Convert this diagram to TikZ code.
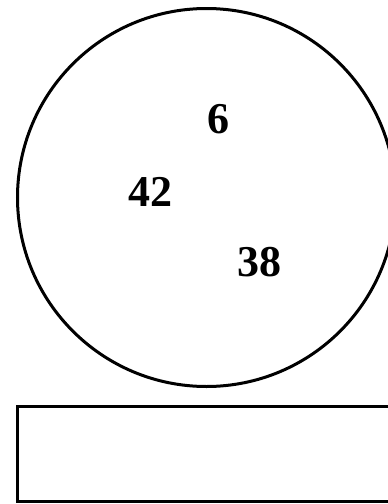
\documentclass[tikz,border=0pt]{standalone}
\usepackage{fontspec}
\setmainfont{Liberation Serif}
\usetikzlibrary{positioning}

\begin{document}
\begin{tikzpicture}[x=1pt,y=-1pt]
\useasboundingbox (0,0) rectangle (388,504);
\clip (0,0) rectangle (388,504);
\tikzset{ring/.style={draw,line width=3pt,circle,inner sep=0pt,minimum size=378pt},
  numlab/.style={font=\fontsize{44}{44}\selectfont\bfseries,inner sep=0pt}}
\node[ring] (disc) at (206.5,197.5) {};
\draw[line width=3.4pt] (17.5,406.5) rectangle (410,501.5);
\foreach \nm/\txt/\px/\py in {six/6/218/119,fortytwo/42/150/192,thirtyeight/38/259/262}{\node[numlab] (\nm) at (\px,\py) {\txt};}
\end{tikzpicture}
\end{document}
